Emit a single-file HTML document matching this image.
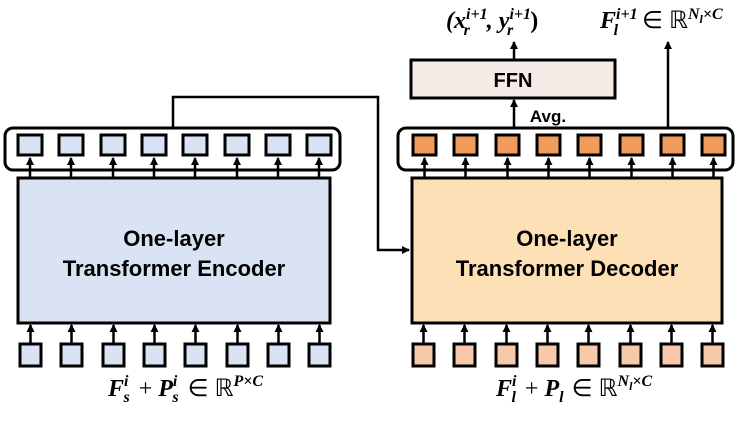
<!DOCTYPE html>
<html><head><meta charset="utf-8"><style>
body{margin:0;background:#fff}
svg text{font-family:"Liberation Sans",sans-serif}
svg text.m{font-family:"Liberation Serif",serif}
</style></head><body>
<svg width="747" height="418" viewBox="0 0 747 418" xmlns="http://www.w3.org/2000/svg">
<defs><marker id="a" markerWidth="8" markerHeight="8" refX="7" refY="4" orient="auto" markerUnits="userSpaceOnUse"><path d="M0,0L8,4L0,8z" fill="#000"/></marker></defs>
<g stroke="#000" stroke-width="3">
<rect x="5" y="128" width="335" height="42" rx="8" fill="#fff"/>
<rect x="18" y="178" width="312" height="145" fill="#dae3f3"/>
<rect x="398" y="128" width="335" height="42" rx="8" fill="#fff"/>
<rect x="412" y="178" width="310" height="145" fill="#fde0b6"/>
<rect x="411" y="60" width="204" height="38" fill="#f7ebe7"/>
</g>
<g stroke="#000" stroke-width="3" fill="#dae3f3">
<rect x="18" y="135" width="24" height="20"/><rect x="59" y="135" width="24" height="20"/><rect x="101" y="135" width="24" height="20"/><rect x="142" y="135" width="24" height="20"/><rect x="183" y="135" width="24" height="20"/><rect x="225" y="135" width="24" height="20"/><rect x="266" y="135" width="24" height="20"/><rect x="307" y="135" width="24" height="20"/>
<rect x="20" y="344" width="21" height="22"/><rect x="61" y="344" width="21" height="22"/><rect x="103" y="344" width="21" height="22"/><rect x="144" y="344" width="21" height="22"/><rect x="185" y="344" width="21" height="22"/><rect x="227" y="344" width="21" height="22"/><rect x="268" y="344" width="21" height="22"/><rect x="309" y="344" width="21" height="22"/>
</g>
<g stroke="#000" stroke-width="3" fill="#f19b5d">
<rect x="413" y="135" width="23" height="20"/><rect x="454" y="135" width="23" height="20"/><rect x="496" y="135" width="23" height="20"/><rect x="537" y="135" width="23" height="20"/><rect x="578" y="135" width="23" height="20"/><rect x="620" y="135" width="23" height="20"/><rect x="661" y="135" width="23" height="20"/><rect x="702" y="135" width="23" height="20"/>
</g>
<g stroke="#000" stroke-width="3" fill="#f8c8aa">
<rect x="413" y="344" width="21" height="22"/><rect x="454" y="344" width="21" height="22"/><rect x="496" y="344" width="21" height="22"/><rect x="537" y="344" width="21" height="22"/><rect x="578" y="344" width="21" height="22"/><rect x="620" y="344" width="21" height="22"/><rect x="661" y="344" width="21" height="22"/><rect x="702" y="344" width="21" height="22"/>
</g>
<g stroke="#000" stroke-width="2.5" fill="none" marker-end="url(#a)">
<path d="M30 178V158"/><path d="M71 178V158"/><path d="M113 178V158"/><path d="M154 178V158"/><path d="M195 178V158"/><path d="M237 178V158"/><path d="M278 178V158"/><path d="M319 178V158"/>
<path d="M30.5 344V325"/><path d="M71.5 344V325"/><path d="M113.5 344V325"/><path d="M154.5 344V325"/><path d="M195.5 344V325"/><path d="M237.5 344V325"/><path d="M278.5 344V325"/><path d="M319.5 344V325"/>
<path d="M424.5 178V158"/><path d="M465.5 178V158"/><path d="M507.5 178V158"/><path d="M548.5 178V158"/><path d="M589.5 178V158"/><path d="M631.5 178V158"/><path d="M672.5 178V158"/><path d="M713.5 178V158"/>
<path d="M423.5 344V325"/><path d="M464.5 344V325"/><path d="M506.5 344V325"/><path d="M547.5 344V325"/><path d="M588.5 344V325"/><path d="M630.5 344V325"/><path d="M671.5 344V325"/><path d="M712.5 344V325"/>
<path d="M173 128V97H378V250H409"/>
<path d="M514 60V42"/>
<path d="M514 128V100"/>
<path d="M668 128V42"/>
</g>
<g font-weight="bold" font-size="22" text-anchor="middle" fill="#000">
<text x="174" y="246">One-layer</text>
<text x="174" y="276">Transformer Encoder</text>
<text x="567" y="246">One-layer</text>
<text x="567" y="276">Transformer Decoder</text>
<text x="513" y="87" font-size="20">FFN</text>
<text x="548" y="122" font-size="17">Avg.</text>
</g>
<g font-size="24" fill="#000" font-weight="bold">
<text class="m" x="446" y="28"><tspan font-style="italic">(x</tspan><tspan font-size="16" dy="-9" font-style="italic">i+1</tspan><tspan font-size="16" dx="-24" dy="16" font-style="italic">r</tspan><tspan dx="17" dy="-7" font-style="italic">, y</tspan><tspan font-size="16" dy="-9" font-style="italic">i+1</tspan><tspan font-size="16" dx="-24" dy="16" font-style="italic">r</tspan><tspan dx="17" dy="-7">)</tspan></text>
<text class="m" x="600" y="28"><tspan font-style="italic">F</tspan><tspan font-size="16" dy="-9" font-style="italic">i+1</tspan><tspan font-size="16" dx="-24" dy="16" font-style="italic">l</tspan><tspan dx="24" dy="-7" font-weight="normal">∈ ℝ</tspan><tspan font-size="16" dy="-9" font-style="italic">N<tspan font-size="12" dy="4">l</tspan><tspan dy="-4">×C</tspan></tspan></text>
<text class="m" x="108" y="396"><tspan font-style="italic">F</tspan><tspan font-size="16" dy="-10" font-style="italic">i</tspan><tspan font-size="16" dx="-5" dy="16" font-style="italic">s</tspan><tspan dx="3" dy="-6" font-weight="normal"> + </tspan><tspan font-style="italic">P</tspan><tspan font-size="16" dy="-10" font-style="italic">i</tspan><tspan font-size="16" dx="-5" dy="16" font-style="italic">s</tspan><tspan dx="3" dy="-6" font-weight="normal"> ∈ ℝ</tspan><tspan font-size="16" dy="-10" font-style="italic">P×C</tspan></text>
<text class="m" x="496" y="396"><tspan font-style="italic">F</tspan><tspan font-size="16" dy="-10" font-style="italic">i</tspan><tspan font-size="16" dx="-5" dy="16" font-style="italic">l</tspan><tspan dx="3" dy="-6" font-weight="normal"> + </tspan><tspan font-style="italic">P</tspan><tspan font-size="16" dy="6" font-style="italic">l</tspan><tspan dx="2" dy="-6" font-weight="normal"> ∈ ℝ</tspan><tspan font-size="16" dy="-10" font-style="italic">N<tspan font-size="12" dy="4">l</tspan><tspan dy="-4">×C</tspan></tspan></text>
</g>
</svg>
</body></html>
